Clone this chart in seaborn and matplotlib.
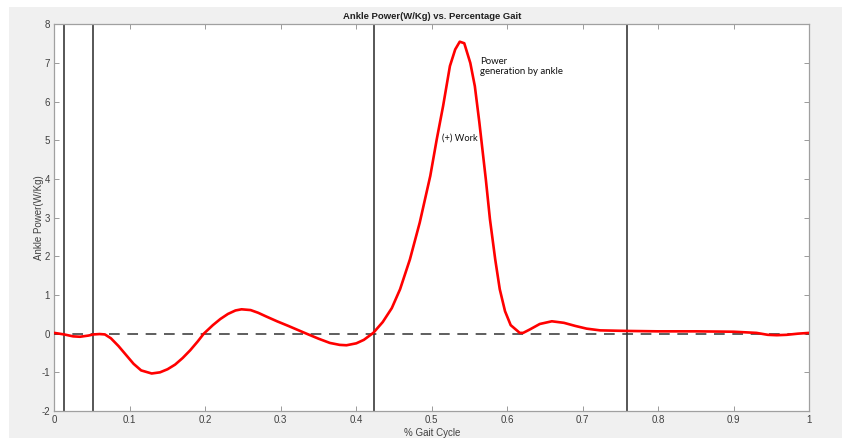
import numpy as np
import pandas as pd
import matplotlib
matplotlib.use("Agg")
import matplotlib.pyplot as plt
from matplotlib.patches import Rectangle
import seaborn as sns

# Gait cycle fraction and ankle power (W/Kg)
gait = [0.000, 0.013, 0.025, 0.034, 0.045, 0.052, 0.060, 0.067, 0.075, 0.085,
        0.095, 0.105, 0.115, 0.129, 0.140, 0.150, 0.160, 0.170, 0.180, 0.190,
        0.198, 0.210, 0.220, 0.230, 0.240, 0.248, 0.260, 0.270, 0.280, 0.295,
        0.310, 0.334, 0.350, 0.365, 0.378, 0.387, 0.400, 0.410, 0.4225, 0.435,
        0.447, 0.458, 0.471, 0.484, 0.498, 0.5065, 0.515, 0.524, 0.531, 0.537,
        0.543, 0.551, 0.557, 0.563, 0.5715, 0.577, 0.584, 0.590, 0.597, 0.6045,
        0.6165, 0.621, 0.630, 0.643, 0.659, 0.675, 0.690, 0.705, 0.723, 0.760,
        0.800, 0.850, 0.900, 0.930, 0.945, 0.957, 0.970, 0.985, 1.000]
power = [0.02, -0.02, -0.07, -0.08, -0.05, -0.02, -0.01, -0.02, -0.12, -0.32,
         -0.55, -0.78, -0.95, -1.03, -1.00, -0.92, -0.80, -0.63, -0.43, -0.20,
         0.00, 0.22, 0.38, 0.51, 0.60, 0.63, 0.61, 0.54, 0.45, 0.32,
         0.20, 0.00, -0.13, -0.24, -0.29, -0.30, -0.25, -0.16, 0.02, 0.30,
         0.66, 1.15, 1.92, 2.87, 4.08, 5.02, 5.89, 6.92, 7.35, 7.55,
         7.51, 7.00, 6.40, 5.46, 4.00, 2.96, 1.92, 1.15, 0.58, 0.22,
         0.02, 0.02, 0.11, 0.25, 0.32, 0.28, 0.20, 0.13, 0.085, 0.07,
         0.06, 0.06, 0.05, 0.02, -0.03, -0.04, -0.03, 0.00, 0.02]

# Gait event markers
events = [0.013, 0.051, 0.423, 0.759]

x_ticks = [0, 0.1, 0.2, 0.3, 0.4, 0.5, 0.6, 0.7, 0.8, 0.9, 1]
x_tick_labels = ["0", "0.1", "0.2", "0.3", "0.4", "0.5", "0.6", "0.7", "0.8", "0.9", "1"]
y_ticks = [-2, -1, 0, 1, 2, 3, 4, 5, 6, 7, 8]

sns.set_style("ticks", {"xtick.direction": "in", "ytick.direction": "in"})
plt.rcParams["font.family"] = ["Liberation Sans", "DejaVu Sans"]
plt.rcParams["axes.unicode_minus"] = False

df = pd.DataFrame({"gait": gait, "power": power})

fig = plt.figure(figsize=(8.42, 4.38), dpi=100, facecolor="white")
fig.patches.append(Rectangle((9 / 842, 0), 1 - 9 / 842, 1 - 7 / 438,
                             transform=fig.transFigure, facecolor="#f0f0f0",
                             edgecolor="none", zorder=-10))
ax = fig.add_axes([54.3 / 842, 1 - 411 / 438, 755 / 842, 386.7 / 438])
ax.set_facecolor("white")

for ev in events:
    ax.axvline(ev, color="#3a3a3a", lw=1.2, zorder=2)

ax.axhline(0, color="#333333", lw=1.1, dashes=(7, 5), zorder=3)

sns.lineplot(data=df, x="gait", y="power", color="#ff0000", lw=1.9,
             ax=ax, zorder=4)

ax.set_xlim(0, 1)
ax.set_ylim(-2, 8)
ax.set_xticks(x_ticks)
ax.set_xticklabels(x_tick_labels)
ax.set_yticks(y_ticks)
ax.tick_params(axis="both", which="both", direction="in", length=3.6,
               width=0.7, color="#9a9a9a", labelsize=7, labelcolor="#404040",
               top=True, right=True, pad=3)
for s in ax.spines.values():
    s.set_color("#a0a0a0")
    s.set_linewidth(0.9)

ax.set_xlabel("% Gait Cycle", fontsize=7, color="#404040", labelpad=2)
ax.set_ylabel("Ankle Power(W/Kg)", fontsize=7, color="#404040", labelpad=-1.5)
ax.set_title("Ankle Power(W/Kg) vs. Percentage Gait", fontsize=6.8,
             fontweight="bold", color="#202020", pad=4)

ax.text(0.5637, 6.91, "Power\ngeneration by ankle", fontsize=6.9,
        family=["Lato", "DejaVu Sans"], color="#111111",
        ha="left", va="center", linespacing=1.25)
ax.text(0.5131, 5.05, "(+) Work", fontsize=6.7,
        family=["Lato", "DejaVu Sans"], color="#111111",
        ha="left", va="center")

fig.savefig("out.png", dpi=100, facecolor=fig.get_facecolor())
